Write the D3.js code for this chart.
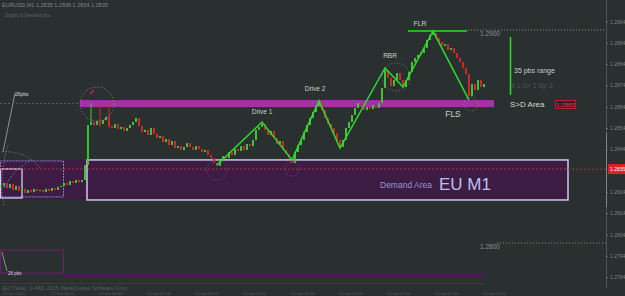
<!DOCTYPE html>
<html>
<head>
<meta charset="UTF-8">
<title>EU M1 demand area</title>
<style>
body { margin: 0; background: #29302f; overflow: hidden; }
svg { display: block; }
text { font-family: "Liberation Sans", Arial, sans-serif; }
</style>
</head>
<body>
<svg id="chart" width="625" height="296"></svg>

<script src="https://d3js.org/d3.v7.min.js"></script>
<script>
// EURUSD M1 closes, one per bar
const closes = [
  1.28268, 1.28282, 1.28258, 1.28277, 1.28249, 1.28268, 1.28244, 1.28254, 1.28235, 1.28249,
  1.28239, 1.28254, 1.28244, 1.28249, 1.28239, 1.28254, 1.28244, 1.28258, 1.28249, 1.28263,
  1.28268, 1.28282, 1.28272, 1.28291, 1.28282, 1.28296, 1.28286, 1.28296, 1.28366, 1.28554,
  1.28568, 1.28554, 1.28573, 1.28559, 1.28577, 1.28592, 1.28549, 1.28540, 1.28559, 1.28535,
  1.28545, 1.28526, 1.28540, 1.28554, 1.28568, 1.28587, 1.28549, 1.28521, 1.28531, 1.28507,
  1.28540, 1.28512, 1.28493, 1.28502, 1.28474, 1.28488, 1.28460, 1.28479, 1.28446, 1.28455,
  1.28437, 1.28451, 1.28469, 1.28451, 1.28437, 1.28455, 1.28441, 1.28427, 1.28437, 1.28413,
  1.28399, 1.28376, 1.28362, 1.28390, 1.28408, 1.28399, 1.28427, 1.28413, 1.28441, 1.28432,
  1.28455, 1.28437, 1.28465, 1.28455, 1.28484, 1.28531, 1.28545, 1.28559, 1.28531, 1.28507,
  1.28526, 1.28493, 1.28465, 1.28479, 1.28437, 1.28418, 1.28399, 1.28376, 1.28427, 1.28460,
  1.28484, 1.28521, 1.28554, 1.28587, 1.28615, 1.28643, 1.28662, 1.28624, 1.28587, 1.28559,
  1.28540, 1.28516, 1.28484, 1.28451, 1.28484, 1.28540, 1.28568, 1.28601, 1.28634, 1.28657,
  1.28643, 1.28624, 1.28638, 1.28629, 1.28648, 1.28634, 1.28657, 1.28728, 1.28812, 1.28775,
  1.28737, 1.28765, 1.28798, 1.28765, 1.28732, 1.28765, 1.28803, 1.28850, 1.28869, 1.28883,
  1.28892, 1.28915, 1.28953, 1.28977, 1.28986, 1.28962, 1.28944, 1.28925, 1.28934, 1.28906,
  1.28915, 1.28892, 1.28869, 1.28850, 1.28822, 1.28793, 1.28690, 1.28746, 1.28718, 1.28765,
  1.28732, 1.28746
];
// bars with a long wick: [bar, high, low]
const wicks = [[30, 1.28657, 1.28554], [33, 1.28657, 1.28545], [36, 1.28662, 1.28540]];

// swing points of the green zigzag
const pivotIdx = [72, 87, 97, 106, 113, 128, 134, 144, 156];
const pivotPrice = [1.28366, 1.28568, 1.28390, 1.28667, 1.28446, 1.28822, 1.28732, 1.28995, 1.28671];
const pivotNames = ["", "Drive 1", "", "Drive 2", "", "RBR", "", "FLR", "FLS"];

const priceTicks = [1.2904, 1.2894, 1.2884, 1.2874, 1.2864, 1.2854, 1.2844, 1.2834, 1.2824, 1.2814, 1.2804, 1.2794, 1.2784];
const roundLevels = [1.2900, 1.2800];
const sdZone = [1.28671, 1.28638];
const demandZone = [1.28390, 1.28202];
const lastPrice = 1.28347;
const timeLabels = ["22 Jan 2015", "22 Jan 08:14", "22 Jan 08:46", "22 Jan 09:18", "22 Jan 09:50", "22 Jan 10:22",
                    "22 Jan 10:54", "22 Jan 11:26", "22 Jan 11:58", "22 Jan 12:30", "22 Jan 13:02"];

const W = 625, H = 296, axisX = 606;
const svg = d3.select("#chart");

let x = d3.scaleLinear().domain([0, closes.length - 1]).range([1, 484]);
let y = d3.scaleLinear().domain([1.2800, 1.2900]).range([243, 30]);

svg.append("rect").attr("width", W).attr("height", H).attr("fill", "#29302f");

// header
svg.append("text").attr("x", 2).attr("y", 7).attr("font-size", 5.5).attr("fill", "#7e8685")
  .text("EURUSD,M1  1.2835 1.2836 1.2834 1.2835");
svg.append("text").attr("x", 5).attr("y", 17).attr("font-size", 4.5).attr("fill", "#5d6564")
  .text("Supply & Demand   pbs");

// demand area fill (left part + main box)
svg.append("rect").attr("x", 0).attr("y", y(demandZone[0])).attr("width", 87)
  .attr("height", y(demandZone[1]) - y(demandZone[0])).attr("fill", "#3d1c44");
svg.append("rect").attr("x", 87).attr("y", y(demandZone[0])).attr("width", 481)
  .attr("height", y(demandZone[1]) - y(demandZone[0])).attr("fill", "#3d1c44")
  .attr("stroke", "#c9c9ec").attr("stroke-width", 1.5);
svg.append("rect").attr("x", 0.5).attr("y", y(demandZone[0]) + 1).attr("width", 63)
  .attr("height", 36).attr("fill", "none").attr("stroke", "#8a8ac4").attr("stroke-dasharray", "2,1");
svg.append("rect").attr("x", 0.5).attr("y", 169).attr("width", 21.5).attr("height", 29)
  .attr("fill", "none").attr("stroke", "#cfd0f2").attr("stroke-width", 1.3);

svg.append("text").attr("x", 380).attr("y", 188).attr("font-size", 8.5).attr("fill", "#8f97d6").text("Demand Area");
svg.append("text").attr("x", 439).attr("y", 190).attr("font-size", 17).attr("fill", "#b9c0ee").text("EU M1");

// bottom left box and bands
svg.append("rect").attr("x", 0.5).attr("y", 250).attr("width", 63).attr("height", 23)
  .attr("fill", "none").attr("stroke", "#6a1f70");
svg.append("rect").attr("x", 63).attr("y", 273).attr("width", 421).attr("height", 4).attr("fill", "#4b1a52");
svg.append("line").attr("x1", 0).attr("x2", 484).attr("y1", 283.5).attr("y2", 283.5)
  .attr("stroke", "#553038").attr("stroke-width", 1);
svg.append("line").attr("x1", 2).attr("y1", 252).attr("x2", 7).attr("y2", 271).attr("stroke", "#b8bcbc").attr("stroke-width", 0.7);
svg.append("text").attr("x", 8).attr("y", 275).attr("font-size", 4.5).attr("fill", "#d8dcdc").text("26 pbs");

// 26pbs measure on the left
svg.append("line").attr("x1", 3).attr("y1", 152).attr("x2", 15).attr("y2", 93).attr("stroke", "#b8bcbc").attr("stroke-width", 0.7);
svg.append("text").attr("x", 15).attr("y", 96).attr("font-size", 5).attr("fill", "#d8dcdc").text("26pbs");
svg.append("path").attr("d", "M2,152 Q25,150 40,168").attr("fill", "none")
  .attr("stroke", "#8c9090").attr("stroke-dasharray", "1,2");
svg.append("path").attr("d", "M4,205 Q-2,180 8,145").attr("fill", "none")
  .attr("stroke", "#8c9090").attr("stroke-dasharray", "1,2");
svg.append("path").attr("d", "M4,188 Q14,168 32,160").attr("fill", "none")
  .attr("stroke", "#5a78c0").attr("stroke-dasharray", "2,2");

// price levels
svg.append("line").attr("x1", 0).attr("x2", axisX).attr("y1", y(lastPrice)).attr("y2", y(lastPrice))
  .attr("stroke", "#d42030").attr("stroke-dasharray", "2,2");
svg.append("line").attr("x1", 0).attr("x2", 80).attr("y1", y(1.28655)).attr("y2", y(1.28655))
  .attr("stroke", "#3f5f9a").attr("stroke-dasharray", "2,2");
roundLevels.forEach((p, i) => {
  svg.append("line").attr("x1", i ? 497 : 468).attr("x2", axisX).attr("y1", y(p)).attr("y2", y(p))
    .attr("stroke", "#8a9070").attr("stroke-dasharray", "1,2");
  svg.append("text").attr("x", 480).attr("y", y(p) + 6).attr("font-size", 6.5).attr("fill", "#8d9594")
    .text(p.toFixed(4));
});

// supply turned demand band
svg.append("rect").attr("x", 80).attr("y", y(sdZone[0])).attr("width", 414)
  .attr("height", y(sdZone[1]) - y(sdZone[0])).attr("fill", "#a232a5");

// candles
let bars = svg.append("g").attr("id", "candles");
closes.forEach((c, i) => {
  let o = i ? closes[i - 1] : c;
  let up = c >= o;
  let col = up ? "#45c03a" : "#d0282a";
  let top = y(Math.max(o, c)), bot = y(Math.min(o, c));
  let w = wicks.find(d => d[0] === i);
  if (w) {
    bars.append("line").attr("x1", x(i)).attr("x2", x(i)).attr("y1", y(w[1])).attr("y2", y(w[2]))
      .attr("stroke", col).attr("stroke-width", 1);
  }
  bars.append("rect").attr("x", x(i) - 1).attr("y", top).attr("width", 2)
    .attr("height", Math.max(1, bot - top)).attr("fill", col);
});

// circles
const dotCircle = (cx, cy, r, col) => svg.append("circle").attr("cx", cx).attr("cy", cy).attr("r", r)
  .attr("fill", "none").attr("stroke", col).attr("stroke-dasharray", "1,2").attr("stroke-width", 0.8);
dotCircle(97, 104, 17, "#9aa09e");
svg.append("line").attr("x1", 90).attr("y1", 94).attr("x2", 94).attr("y2", 90).attr("stroke", "#d8204a").attr("stroke-width", 1.2);
dotCircle(x(pivotIdx[0]), 170, 10, "#4d6fb8");
dotCircle(x(pivotIdx[2]), 169, 7, "#4d6fb8");
dotCircle(x(pivotIdx[5]) + 11, 77, 14, "#8c9292");
dotCircle(x(pivotIdx[8]) + 2, 104, 7, "#8c9292");

// zigzag
let zz = pivotIdx.map((d, i) => [x(d), y(pivotPrice[i])]);
svg.append("path").attr("d", d3.line()(zz)).attr("fill", "none")
  .attr("stroke", "#2bde2b").attr("stroke-width", 1.5);
svg.append("line").attr("x1", 408).attr("x2", 467).attr("y1", y(pivotPrice[7])).attr("y2", y(pivotPrice[7]))
  .attr("stroke", "#2bde2b").attr("stroke-width", 1.5);
svg.append("line").attr("x1", 88).attr("x2", 88).attr("y1", y(closes[28]) - 7).attr("y2", y(closes[29]))
  .attr("stroke", "#2bc02b").attr("stroke-width", 1.3);

const labelPos = { "Drive 1": [0, -8, 6.5], "Drive 2": [-4, -10, 6.5], "RBR": [5, -10, 6.5], "FLR": [-13, -5, 7], "FLS": [-16, 17, 8.5] };
pivotNames.forEach((n, i) => {
  if (!n) return;
  let p = labelPos[n];
  svg.append("text").attr("x", x(pivotIdx[i]) + p[0]).attr("y", y(pivotPrice[i]) + p[1])
    .attr("text-anchor", "middle").attr("font-size", p[2]).attr("fill", "#ccd2d0").text(n);
});

// 35 pips range marker
svg.append("line").attr("x1", 510.5).attr("x2", 510.5).attr("y1", 37).attr("y2", 95)
  .attr("stroke", "#2bde2b").attr("stroke-width", 1.5);
svg.append("text").attr("x", 514).attr("y", 73).attr("font-size", 7).attr("fill", "#c8cecc").text("35 pbs range");
svg.append("text").attr("x", 511).attr("y", 88).attr("font-size", 7).attr("fill", "#4f5756").text("4 1 0> 1 Sp  2");
svg.append("text").attr("x", 510).attr("y", 107).attr("font-size", 8).attr("fill", "#d4d8d8").text("S>D Area");
svg.append("rect").attr("x", 555.5).attr("y", 100.5).attr("width", 20).attr("height", 8)
  .attr("fill", "#3a1e26").attr("stroke", "#b02535");
svg.append("text").attr("x", 565.5).attr("y", 107).attr("text-anchor", "middle").attr("font-size", 6)
  .attr("fill", "#e0354a").text("1.2865");

// right price axis (the tick under the live price label is covered, as in MT4)
svg.append("line").attr("x1", axisX + 0.5).attr("x2", axisX + 0.5).attr("y1", 0).attr("y2", 288).attr("stroke", "#4d5554");
svg.append("line").attr("x1", axisX + 0.5).attr("x2", axisX + 0.5).attr("y1", 133).attr("y2", 207).attr("stroke", "#7f8786");
let visibleTicks = priceTicks.filter(t => Math.abs(y(t) - y(lastPrice)) > 6);
let ax = svg.append("g").attr("transform", `translate(${axisX},0)`)
  .call(d3.axisRight(y).tickValues(visibleTicks).tickSize(2).tickFormat(d3.format(".4f")));
ax.select(".domain").remove();
ax.selectAll("line").attr("stroke", "#6a7271");
ax.selectAll("text").attr("font-size", 5).attr("fill", "#7c8483").attr("x", 4)
  .style("font-family", "Liberation Sans, Arial, sans-serif");
svg.append("rect").attr("x", 608).attr("y", y(lastPrice) - 5).attr("width", 17).attr("height", 10).attr("fill", "#e02028");
svg.append("text").attr("x", 610).attr("y", y(lastPrice) + 2).attr("font-size", 5).attr("fill", "#ffffff").text(lastPrice.toFixed(4));

// footer
svg.append("text").attr("x", 2).attr("y", 290).attr("font-size", 5.5).attr("fill", "#59615f")
  .text("(E) Trader, 2-433, 2015 MetaQuotes Software Corp.");
timeLabels.forEach((t, i) => {
  svg.append("text").attr("x", x(i * 16) + 2).attr("y", 295).attr("font-size", 4).attr("fill", "#56605e").text(t);
});
</script>
</body>
</html>
